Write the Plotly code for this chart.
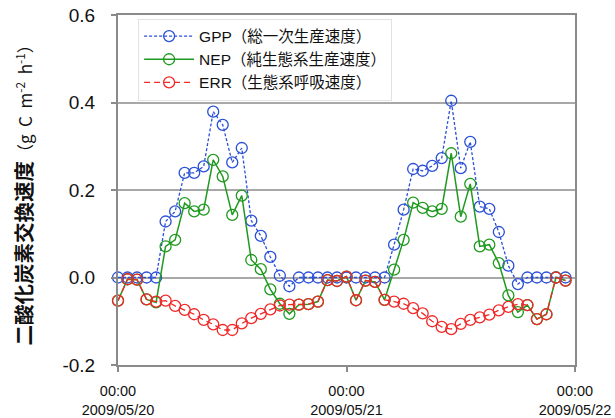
import pandas as pd
import plotly.graph_objects as go

# ---- data (hourly, 2009/05/20 00:00 - 2009/05/21 23:00) ----
start_time = "2009-05-20 00:00"
n_hours = 48

gpp = [0, 0, 0, 0, 0, 0.128, 0.151, 0.239, 0.239, 0.254, 0.379, 0.349, 0.263, 0.296,
       0.130, 0.095, 0.047, 0.004, -0.020, 0, 0, 0, 0, 0, 0, 0, 0, 0, 0,
       0.075, 0.155, 0.248, 0.244, 0.255, 0.273, 0.404, 0.250, 0.310, 0.162, 0.157,
       0.104, 0.027, -0.015, 0, 0, 0, 0, 0]

nep = [-0.053, -0.004, -0.005, -0.050, -0.057, 0.071, 0.086, 0.170, 0.151, 0.155,
       0.269, 0.231, 0.143, 0.187, 0.040, 0.019, -0.027, -0.060, -0.083, -0.062,
       -0.061, -0.055, -0.006, -0.008, 0.002, -0.052, -0.007, -0.010, -0.051, 0.018,
       0.086, 0.171, 0.159, 0.151, 0.157, 0.284, 0.139, 0.214, 0.071, 0.075,
       0.033, -0.041, -0.079, -0.063, -0.095, -0.084, 0.000, -0.007]

err = [-0.053, -0.004, -0.005, -0.050, -0.055, -0.053, -0.065, -0.074, -0.084, -0.097,
       -0.107, -0.120, -0.120, -0.105, -0.093, -0.083, -0.073, -0.064, -0.062, -0.062,
       -0.061, -0.055, -0.006, -0.008, 0.002, -0.052, -0.007, -0.010, -0.051, -0.055,
       -0.060, -0.070, -0.082, -0.100, -0.113, -0.118, -0.106, -0.097, -0.091, -0.085,
       -0.075, -0.067, -0.061, -0.063, -0.095, -0.084, 0.000, -0.007]

series_names = ["GPP（総一次生産速度）", "NEP（純生態系生産速度）", "ERR（生態系呼吸速度）"]

tick_dates = ["2009-05-20 00:00", "2009-05-21 00:00", "2009-05-22 00:00"]
tick_labels = ["00:00<br>2009/05/20", "00:00<br>2009/05/21", "00:00<br>2009/05/22"]
y_ticks = [-0.2, 0.0, 0.2, 0.4, 0.6]
y_ticklabels = ["-0.2", "0.0", "0.2", "0.4", "0.6"]
y_title_main = "二酸化炭素交換速度"
y_title_unit = "（g  C  m<sup>-2</sup>  h<sup>-1</sup>）"

times = pd.date_range(start_time, periods=n_hours, freq="h")

FONT = "Liberation Sans, Arial, Noto Sans CJK JP, sans-serif"

styles = [
    dict(color="#2a4fd8", dash="3px,2px", width=1.3),
    dict(color="#1f9a1f", dash="solid", width=1.5),
    dict(color="#f02828", dash="6px,4px", width=1.3),
]

fig = go.Figure()
for name, vals, st in zip(series_names, [gpp, nep, err], styles):
    fig.add_trace(go.Scatter(
        x=times, y=vals, name=name, mode="lines+markers",
        line=dict(color=st["color"], dash=st["dash"], width=st["width"]),
        marker=dict(symbol="circle-open", size=11, color=st["color"],
                    line=dict(width=1.3, color=st["color"])),
        cliponaxis=False,
    ))

fig.update_layout(
    width=615, height=418,
    margin=dict(l=118, r=40, t=15, b=53, autoexpand=False),
    paper_bgcolor="white", plot_bgcolor="white",
    font=dict(family=FONT, color="#111"),
    showlegend=True,
    legend=dict(
        x=0.044, y=0.99, xanchor="left", yanchor="top",
        bgcolor="white", bordercolor="#e2e2e2", borderwidth=1,
        font=dict(size=15.5, family=FONT, color="#111"),
        itemwidth=50, tracegroupgap=0,
    ),
    annotations=[dict(
        text="<b>" + y_title_main + "</b><span style='font-size:17px'>" + y_title_unit + "</span>",
        xref="paper", yref="paper", x=-0.208, y=0.051,
        xanchor="center", yanchor="bottom", textangle=-90, showarrow=False,
        font=dict(size=20.5, family="Noto Sans CJK JP, Liberation Sans, sans-serif", color="#111"),
    )],
)

fig.update_xaxes(
    range=[tick_dates[0], tick_dates[-1]],
    tickvals=tick_dates, ticktext=tick_labels,
    showgrid=False, zeroline=False, automargin=False,
    showline=True, linecolor="#8a8a8a", linewidth=2, mirror=True,
    ticks="outside", ticklen=5, tickcolor="#8a8a8a", tickwidth=1.5,
    ticklabelstandoff=7, ticklabeloverflow="allow",
    tickfont=dict(size=14.5, family=FONT, color="#111"),
)

fig.update_yaxes(
    range=[-0.2, 0.6],
    tickvals=y_ticks, ticktext=y_ticklabels,
    showgrid=True, gridcolor="#a8a8a8", gridwidth=1.5,
    zeroline=False, automargin=False,
    showline=True, linecolor="#8a8a8a", linewidth=2, mirror=True,
    ticks="outside", ticklen=5, tickcolor="#8a8a8a", tickwidth=1.5,
    ticklabelstandoff=12, ticklabeloverflow="allow",
    tickfont=dict(size=19, family=FONT, color="#111"),
)

# remove the default 8px body margin so the figure fills the window exactly
fig.write_html("out.html", config={"displayModeBar": False},
               post_script="document.body.style.margin='0px';")
